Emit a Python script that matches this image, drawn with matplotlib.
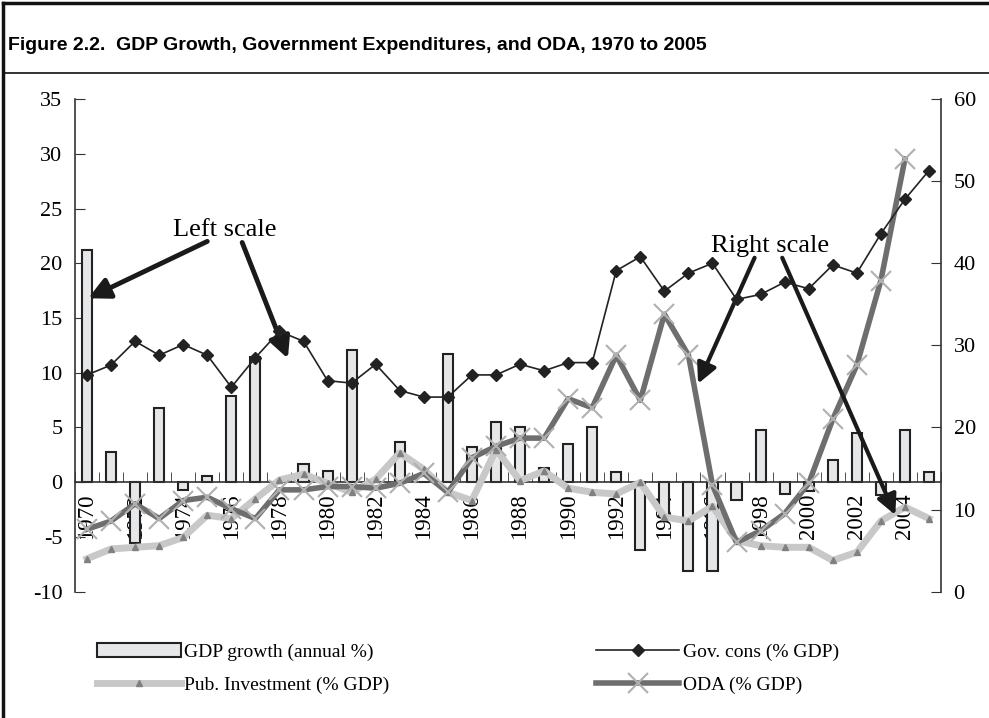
import matplotlib.pyplot as plt
from matplotlib.lines import Line2D
from matplotlib import font_manager
import numpy as np

plt.rcParams['font.family'] = ['Liberation Serif', 'DejaVu Serif']
plt.rcParams['axes.unicode_minus'] = False

years = list(range(1970, 2006))

# GDP growth (annual %), left scale
gdp_growth = [21.2, 2.8, -5.6, 6.8, -0.7, 0.6, 7.9, 11.4, 0.0, 1.7, 1.0, 12.1,
              0.0, 3.7, 0.0, 11.7, 3.2, 5.5, 5.0, 1.3, 3.5, 5.0, 0.9, -6.2,
              -3.0, -8.1, -8.1, -1.6, 4.8, -1.1, -0.8, 2.0, 4.5, -1.2, 4.8, 0.9]

# right scale series
gov_cons = [26.4, 27.6, 30.5, 28.8, 30.1, 28.8, 24.9, 28.5, 31.7, 30.5, 25.7, 25.4,
            27.7, 24.5, 23.7, 23.7, 26.4, 26.4, 27.7, 26.9, 27.9, 27.9, 39.1, 40.8,
            36.6, 38.8, 40.0, 35.6, 36.2, 37.7, 36.9, 39.8, 38.8, 43.6, 47.8, 51.3]

pub_invest = [4.0, 5.2, 5.4, 5.6, 6.6, 9.3, 8.9, 11.3, 13.6, 14.3, 13.2, 12.1,
              13.7, 16.9, 14.9, 12.1, 11.1, 17.3, 13.5, 14.7, 12.6, 12.1, 11.9, 13.3,
              9.1, 8.6, 10.4, 6.2, 5.6, 5.4, 5.4, 3.8, 4.8, 8.6, 10.3, 8.9]

oda = [7.6, 8.6, 10.7, 8.9, 11.1, 11.5, 10.1, 8.9, 12.4, 12.4, 12.8, 12.8,
       12.6, 13.2, 14.4, 12.1, 16.3, 17.7, 18.7, 18.7, 23.5, 22.4, 28.8, 23.3,
       33.8, 28.8, 13.0, 6.0, 7.4, 9.5, 13.2, 21.0, 27.6, 37.9, 52.7, np.nan]

x = np.arange(len(years))

fig = plt.figure(figsize=(9.89, 7.18), dpi=100)
ax = fig.add_axes([0.0758, 0.176, 0.8757, 0.686])
ax2 = ax.twinx()

ax.bar(x, gdp_growth, width=0.42, color='#e6e7e8', edgecolor='#222222', linewidth=1.5,
       label='GDP growth (annual %)', zorder=2)

ax2.plot(x, gov_cons, color='#222222', lw=1.2, marker='D', ms=6, label='Gov. cons (% GDP)', zorder=4)
ax2.plot(x, pub_invest, color='#c8c8c8', lw=5, marker='^', ms=5, mfc='#808080', mec='#808080',
         label='Pub. Investment (% GDP)', zorder=3)
ax2.plot(x, oda, color='#6e6e6e', lw=4, marker='x', ms=15, mew=1.5, mec='#b0b0b0',
         label='ODA (% GDP)', zorder=3)

ax.set_xlim(-0.5, len(years) - 0.5)
ax.set_ylim(-10, 35)
ax2.set_ylim(0, 60)
ax.set_yticks(np.arange(-10, 36, 5))
ax2.set_yticks(np.arange(0, 61, 10))

ax.spines['bottom'].set_position(('data', 0))
for s in ['top', 'right']:
    ax.spines[s].set_visible(False)
for s in ['top', 'bottom', 'left']:
    ax2.spines[s].set_visible(False)
for s in [ax.spines['left'], ax.spines['bottom'], ax2.spines['right']]:
    s.set_color('#333333')
    s.set_linewidth(1.2)

ax.set_xticks(x[::2])
ax.set_xticklabels([str(y) for y in years[::2]], rotation=90, fontsize=16.5)
ax.set_xticks(np.arange(-0.5, len(years), 1), minor=True)
ax.tick_params(axis='x', which='major', length=0, pad=8)
ax.tick_params(axis='x', which='minor', direction='in', length=7, color='#333333')
ax.tick_params(axis='y', direction='in', length=7, labelsize=16, color='#333333', pad=9)
ax2.tick_params(axis='y', direction='in', length=7, labelsize=16, color='#333333', pad=9)

# annotations (left scale coordinates)
arrow = dict(arrowstyle='-|>', lw=3.5, color='#1a1a1a', mutation_scale=32, shrinkA=0, shrinkB=0)
ax2.text(5.74, 23.0, 'Left scale', transform=ax.transData, fontsize=19, ha='center', va='center')
ax2.annotate('', xy=(0.05, 16.8), xytext=(5.0, 22.0), xycoords=ax.transData,
             textcoords=ax.transData, arrowprops=arrow)
ax2.annotate('', xy=(8.35, 11.3), xytext=(6.45, 21.9), xycoords=ax.transData,
             textcoords=ax.transData, arrowprops=arrow)
arrow2 = dict(arrow, lw=3, mutation_scale=30)
ax2.text(28.4, 21.6, 'Right scale', transform=ax.transData, fontsize=19, ha='center', va='center')
ax2.annotate('', xy=(25.4, 9.0), xytext=(27.75, 20.5), xycoords=ax.transData,
             textcoords=ax.transData, arrowprops=arrow2)
ax2.annotate('', xy=(33.6, -3.0), xytext=(28.9, 20.5), xycoords=ax.transData,
             textcoords=ax.transData, arrowprops=arrow2)

h1, l1 = ax.get_legend_handles_labels()
h2, l2 = ax2.get_legend_handles_labels()
handles = [h1[0], h2[1], h2[0], h2[2]]
labels = [l1[0], l2[1], l2[0], l2[2]]
fig.legend(handles, labels, ncol=2, loc='upper left', bbox_to_anchor=(0.098, 0.104),
           frameon=False, fontsize=14, handlelength=4.3, handletextpad=0.2,
           columnspacing=10.6, labelspacing=0.8, borderaxespad=0, borderpad=0)

# title (condensed face if one exists) and frame
names = {f.name for f in font_manager.fontManager.ttflist}
if 'DejaVu Sans Condensed' in names:
    tfam, tsize = 'DejaVu Sans Condensed', 15
elif 'Liberation Sans Narrow' in names:
    tfam, tsize = 'Liberation Sans Narrow', 17
else:
    tfam, tsize = 'Liberation Sans', 14
fig.text(0.008, 0.936, 'Figure 2.2.  GDP Growth, Government Expenditures, and ODA, 1970 to 2005',
         fontsize=tsize, fontweight='bold', family=[tfam, 'DejaVu Sans'],
         va='center', ha='left')
fig.add_artist(Line2D([0.003, 1.0], [0.898, 0.898], color='#111111', lw=1.2, transform=fig.transFigure))
fig.add_artist(Line2D([0.003, 0.003], [0.0, 0.996], color='#111111', lw=2.5, transform=fig.transFigure))
fig.add_artist(Line2D([0.003, 1.0], [0.996, 0.996], color='#111111', lw=2.5, transform=fig.transFigure))

fig.savefig('out.png', dpi=100)
